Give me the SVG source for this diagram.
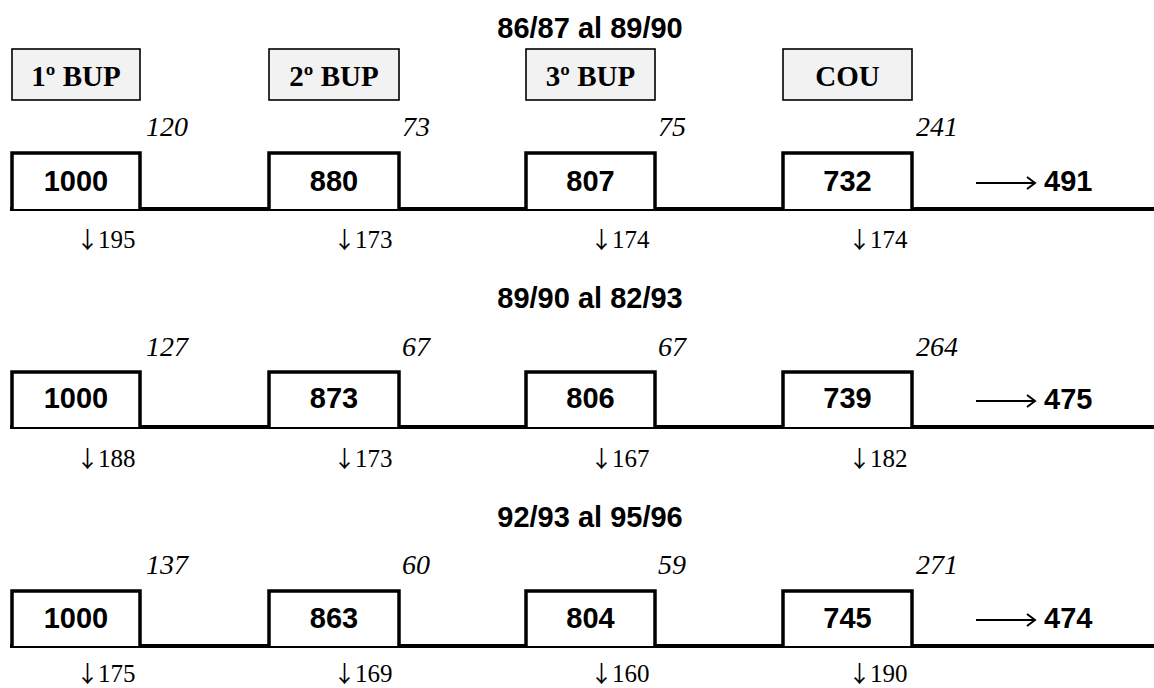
<svg xmlns="http://www.w3.org/2000/svg" width="1154" height="688" viewBox="0 0 1154 688">
<style>
.title{font-family:"Liberation Sans",Arial,sans-serif;font-weight:bold;font-size:29px;text-anchor:middle;fill:#000}
.hdr{fill:#f2f2f2;stroke:#000;stroke-width:1.6}
.hdrt{font-family:"Liberation Serif","Times New Roman",serif;font-weight:bold;font-size:29px;text-anchor:middle;fill:#000}
.box{fill:#fff;stroke:#000;stroke-width:3.5}
.num{font-family:"Liberation Sans",Arial,sans-serif;font-weight:bold;font-size:29px;text-anchor:middle;fill:#000}
.it{font-family:"Liberation Serif","Times New Roman",serif;font-style:italic;font-size:28px;fill:#000}
.dn{font-family:"Liberation Serif","Times New Roman",serif;font-size:25px;fill:#000}
.ar{font-family:"Noto Sans CJK JP","DejaVu Sans",sans-serif;font-size:23px}
.base{stroke:#000;stroke-width:3.8;fill:none}
.arr{stroke:#000;stroke-width:2;fill:none}
</style>
<rect width="1154" height="688" fill="#fff"/>

<g id="titles">
<text class="title" x="590" y="38">86/87 al 89/90</text>
<text class="title" x="590" y="308">89/90 al 82/93</text>
<text class="title" x="590" y="527">92/93 al 95/96</text>
</g>

<g id="hdr-1"><rect class="hdr" x="12" y="49" width="128" height="51"/><text class="hdrt" x="76" y="86">1º BUP</text></g>
<g id="hdr-2"><rect class="hdr" x="269" y="49" width="130" height="51"/><text class="hdrt" x="334" y="86">2º BUP</text></g>
<g id="hdr-3"><rect class="hdr" x="526" y="49" width="129" height="51"/><text class="hdrt" x="590.5" y="86">3º BUP</text></g>
<g id="hdr-4"><rect class="hdr" x="783" y="49" width="129" height="51"/><text class="hdrt" x="847.5" y="86">COU</text></g>

<g id="connectors">
<line class="base" x1="10" y1="209" x2="1154" y2="209"/>
<line class="base" x1="10" y1="427" x2="1154" y2="427"/>
<line class="base" x1="10" y1="646" x2="1154" y2="646"/>
<path class="arr" d="M976 183 H1035 M1027 177 L1035 183 L1027 189"/>
<path class="arr" d="M976 401 H1035 M1027 395 L1035 401 L1027 407"/>
<path class="arr" d="M976 620 H1035 M1027 614 L1035 620 L1027 626"/>
</g>

<!-- Row 1 -->
<g id="r1-c1"><path class="box" d="M12 209 V153 H140 V209"/><text class="num" x="76" y="191">1000</text></g>
<g id="r1-c2"><path class="box" d="M269 209 V153 H399 V209"/><text class="num" x="334" y="191">880</text></g>
<g id="r1-c3"><path class="box" d="M526 209 V153 H655 V209"/><text class="num" x="590.5" y="191">807</text></g>
<g id="r1-c4"><path class="box" d="M783 209 V153 H912 V209"/><text class="num" x="847.5" y="191">732</text></g>
<g id="r1-out"><text class="num" x="1044" y="191" style="text-anchor:start">491</text></g>
<g id="r1-labels">
<text class="it" x="146" y="136">120</text>
<text class="it" x="402" y="136">73</text>
<text class="it" x="658" y="136">75</text>
<text class="it" x="916" y="136">241</text>
<text class="dn" x="76" y="248"><tspan class="ar">↓</tspan><tspan x="98">195</tspan></text>
<text class="dn" x="333" y="248"><tspan class="ar">↓</tspan><tspan x="355">173</tspan></text>
<text class="dn" x="590" y="248"><tspan class="ar">↓</tspan><tspan x="612">174</tspan></text>
<text class="dn" x="848" y="248"><tspan class="ar">↓</tspan><tspan x="870">174</tspan></text>
</g>

<!-- Row 2 -->
<g id="r2-c1"><path class="box" d="M12 427 V372 H140 V427"/><text class="num" x="76" y="408">1000</text></g>
<g id="r2-c2"><path class="box" d="M269 427 V372 H399 V427"/><text class="num" x="334" y="408">873</text></g>
<g id="r2-c3"><path class="box" d="M526 427 V372 H655 V427"/><text class="num" x="590.5" y="408">806</text></g>
<g id="r2-c4"><path class="box" d="M783 427 V372 H912 V427"/><text class="num" x="847.5" y="408">739</text></g>
<g id="r2-out"><text class="num" x="1044" y="409" style="text-anchor:start">475</text></g>
<g id="r2-labels">
<text class="it" x="146" y="356">127</text>
<text class="it" x="402" y="356">67</text>
<text class="it" x="658" y="356">67</text>
<text class="it" x="916" y="356">264</text>
<text class="dn" x="76" y="467"><tspan class="ar">↓</tspan><tspan x="98">188</tspan></text>
<text class="dn" x="333" y="467"><tspan class="ar">↓</tspan><tspan x="355">173</tspan></text>
<text class="dn" x="590" y="467"><tspan class="ar">↓</tspan><tspan x="612">167</tspan></text>
<text class="dn" x="848" y="467"><tspan class="ar">↓</tspan><tspan x="870">182</tspan></text>
</g>

<!-- Row 3 -->
<g id="r3-c1"><path class="box" d="M12 646 V591 H140 V646"/><text class="num" x="76" y="628">1000</text></g>
<g id="r3-c2"><path class="box" d="M269 646 V591 H399 V646"/><text class="num" x="334" y="628">863</text></g>
<g id="r3-c3"><path class="box" d="M526 646 V591 H655 V646"/><text class="num" x="590.5" y="628">804</text></g>
<g id="r3-c4"><path class="box" d="M783 646 V591 H912 V646"/><text class="num" x="847.5" y="628">745</text></g>
<g id="r3-out"><text class="num" x="1044" y="628" style="text-anchor:start">474</text></g>
<g id="r3-labels">
<text class="it" x="146" y="574">137</text>
<text class="it" x="402" y="574">60</text>
<text class="it" x="658" y="574">59</text>
<text class="it" x="916" y="574">271</text>
<text class="dn" x="76" y="682"><tspan class="ar">↓</tspan><tspan x="98">175</tspan></text>
<text class="dn" x="333" y="682"><tspan class="ar">↓</tspan><tspan x="355">169</tspan></text>
<text class="dn" x="590" y="682"><tspan class="ar">↓</tspan><tspan x="612">160</tspan></text>
<text class="dn" x="848" y="682"><tspan class="ar">↓</tspan><tspan x="870">190</tspan></text>
</g>
</svg>
